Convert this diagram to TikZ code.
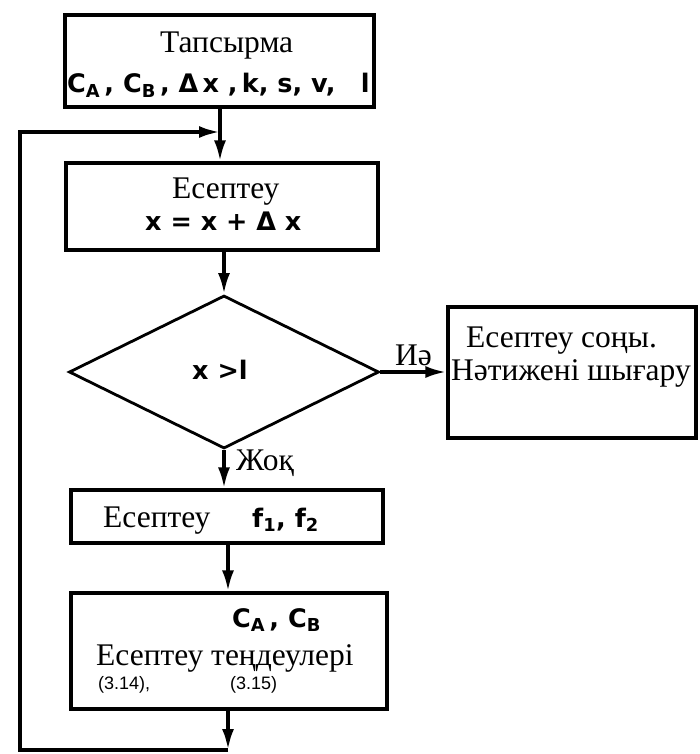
\documentclass[tikz,border=0pt]{standalone}
\usepackage{fontspec}
\setmainfont{Liberation Serif}
\newfontfamily\bsf{DejaVu Sans}
\newfontfamily\ssf{Liberation Sans}
\usetikzlibrary{shapes.geometric,arrows.meta}
\begin{document}
\begin{tikzpicture}[x=1pt,y=1pt,
  box/.style={draw, line width=3.2pt, inner sep=0pt, line join=miter},
  conn/.style={line width=3.6pt, -{Latex[length=21pt,width=12pt]}},
  wire/.style={line width=3.6pt, line join=miter},
  lbl/.style={inner sep=0pt, anchor=base west, font=\fontsize{31.5}{33}\selectfont},
  mth/.style={inner sep=0pt, anchor=base west, font=\bsf\bfseries\fontsize{25.5}{27}\selectfont},
  sml/.style={inner sep=0pt, anchor=base west, font=\ssf\fontsize{18}{20}\selectfont}]
\useasboundingbox (0,0) rectangle (699,-754);

% boxes
\node[box, minimum width=309pt, minimum height=92pt] (b1) at (219.5,-61) {};
\node[box, minimum width=312pt, minimum height=87pt] (b2) at (222,-206.5) {};
\node[box, diamond, line width=2.8pt, minimum width=310pt, minimum height=153pt] (d) at (224,-372) {};
\node[box, minimum width=248pt, minimum height=131pt] (b5) at (572,-372.5) {};
\node[box, minimum width=312pt, minimum height=53pt] (b3) at (227,-516.5) {};
\node[box, minimum width=316pt, minimum height=116pt] (b4) at (229,-651) {};

% texts
\node[lbl] (t1a) at (160,-53) {Тапсырма};
\node[mth] (t1b) at (67,-93) {C\textsubscript{A}\,, C\textsubscript{B}\,, Δ\,x ,\,k, s, v,\quad l};
\node[lbl] (t2a) at (172,-198) {Есептеу};
\node[mth] (t2b) at (145,-230) {x = x + Δ x};
\node[mth] (td) at (192,-379) {x >l};
\node[lbl] (t5a) at (466,-347) {Есептеу соңы.};
\node[lbl] (t5b) at (451,-380) {Нәтижені шығару};
\node[lbl] (t3a) at (103,-527) {Есептеу};
\node[mth] (t3b) at (252,-527) {f\textsubscript{1}, f\textsubscript{2}};
\node[mth] (t4a) at (232,-627) {C\textsubscript{A}\,, C\textsubscript{B}};
\node[lbl] (t4b) at (96,-665) {Есептеу теңдеулері};
\node[sml] (t4c) at (98,-689) {(3.14),};
\node[sml] (t4d) at (230,-689) {(3.15)};
\node[lbl] (yes) at (395,-365) {Иә};
\node[lbl] (no) at (236,-470) {Жоқ};

% junctions
\coordinate (j1) at (220,-132);
\coordinate (j2) at (228,-750);
\coordinate (c1) at (20,-750);
\coordinate (c2) at (20,-132);

% connectors
\draw[conn] (b1.south -| j1) -- (b2.north -| j1);
\draw[conn] (b2.south -| d.north) -- (d.north);
\draw[conn] (d.east) -- (d.east -| b5.west);
\draw[conn] (d.south) -- (d.south |- b3.north);
\draw[conn] (b3.south -| j2) -- (b4.north -| j2);
\draw[conn] (b4.south -| j2) -- (j2);
\draw[wire, -{Latex[length=21pt,width=12pt]}] (j2) -- (c1) -- (c2) -- (j1);
\end{tikzpicture}
\end{document}
